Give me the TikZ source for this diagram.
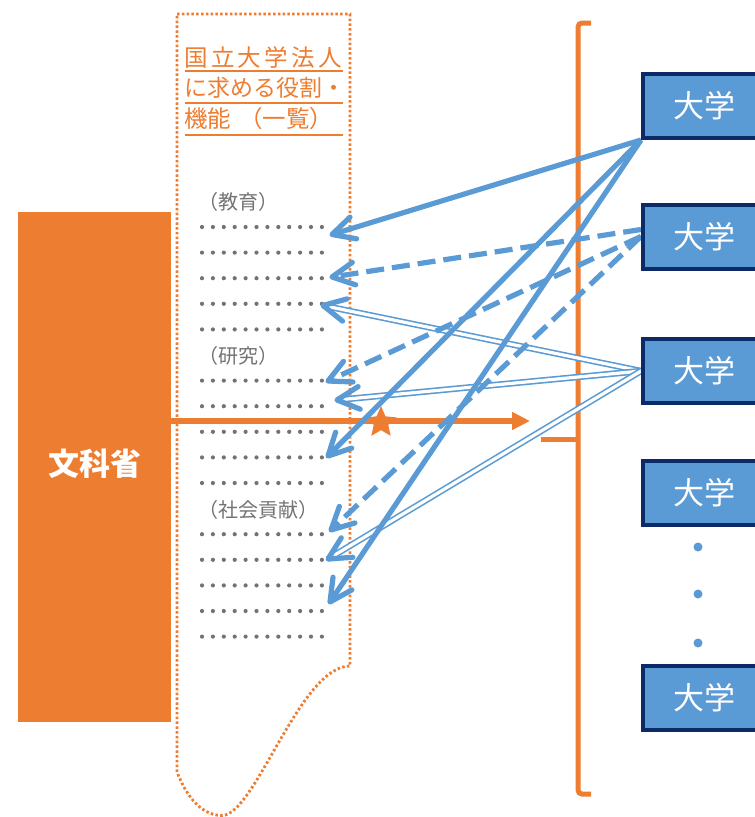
\documentclass[tikz,border=0pt]{standalone}
\usepackage{fontspec}
\setmainfont{Noto Sans CJK JP}
\usetikzlibrary{arrows.meta,calc,shapes.geometric}
\pgfdeclarelayer{front}
\pgfsetlayers{main,front}
\definecolor{mextor}{HTML}{ED7D31}
\definecolor{ublue}{HTML}{5B9BD5}
\definecolor{unavy}{HTML}{0C2B66}
\definecolor{txtgray}{HTML}{737373}
\newcommand{\openhead}[2]{\draw[headstyle] ($(#1)!25pt!27:(#2)$) -- (#1) -- ($(#1)!25pt!-27:(#2)$);}
\begin{document}
\begin{tikzpicture}[x=1pt,y=-1pt,
 ubox/.style={draw=unavy, fill=ublue, line width=4pt, minimum width=122pt, minimum height=64pt, inner sep=0pt, text=white, font=\fontsize{31pt}{34pt}\selectfont},
 docline/.style={draw=mextor, line width=2.8pt, dash pattern=on 2.5pt off 2.3pt},
 titletext/.style={text=mextor, inner sep=0pt, anchor=west},
 sectlabel/.style={text=txtgray, inner sep=0pt, anchor=west, font=\fontsize{20pt}{22pt}\selectfont},
 solidarrow/.style={draw=ublue, line width=5.2pt},
 dasharrow/.style={draw=ublue, line width=5.2pt, dash pattern=on 18pt off 8pt},
 dblarrow/.style={draw=ublue, line width=1.6pt, double=white, double distance=3.2pt},
 headstyle/.style={draw=ublue, line width=5.2pt, line cap=round, line join=round},
 dotmark/.style={fill=txtgray},
 mextbox/.style={fill=mextor, inner sep=0pt, anchor=north west, minimum width=153pt, minimum height=510pt},
 uline/.style={draw=mextor, line width=1.3pt},
 bracketline/.style={draw=mextor, line width=5pt},
]
\useasboundingbox (0,0) rectangle (755,817);
\clip (0,0) rectangle (755,817);
\fill[white] (0,0) rectangle (755,817);

% MEXT box
\node[mextbox] (mext) at (18,212) {};
\node[text=white, font=\fontsize{31pt}{34pt}\selectfont\bfseries] (mextlabel) at (95,464) {文科省};

% document
\draw[docline] (177,14) -- (350,14) -- (350,666)
  .. controls (300,666) and (255,815.5) .. (222,815.5)
  .. controls (207,815.5) and (190,805) .. (177,772) -- cycle;

\node[titletext, font=\fontsize{23.5pt}{26pt}\selectfont] (title1) at (184,58) {\makebox[158pt][l]{国\hfill 立\hfill 大\hfill 学\hfill 法\hfill 人}};
\node[titletext, font=\fontsize{23pt}{26pt}\selectfont] (title2) at (184,88) {に求める役割・};
\node[titletext, font=\fontsize{23.5pt}{26pt}\selectfont] (title3) at (184,119) {機能\hspace{8pt}（一覧）};
\draw[uline] (185,71) -- (343,71);
\draw[uline] (185,103) -- (343,103);
\draw[uline] (185,135) -- (343,135);

\node[sectlabel] (sec1) at (198,202) {（教育）};
\node[sectlabel] (sec2) at (198,355.5) {（研究）};
\node[sectlabel] (sec3) at (198,509.5) {（社会貢献）};

\foreach \k in {0,1,2,3,4,6,7,8,9,10,12,13,14,15,16}{
  \foreach \i in {0,...,11}{
    \fill[dotmark] (202+10.9*\i, 227+25.6*\k) circle (2.1pt);
  }
}

% orange arrow and star
\coordinate (oatip) at (530,421);
\draw[mextor, line width=5.5pt, -{Triangle[length=18pt,width=17pt]}] (mext.east |- oatip) -- (oatip);
\coordinate (goalstar) at (381,422.5);
\fill[mextor, shift={(goalstar)}] (-90:16.5) -- (-54:7.6) -- (-18:16.5) -- (18:7.6) -- (54:16.5) -- (90:7.6) -- (126:16.5) -- (162:7.6) -- (198:16.5) -- (234:7.6) -- cycle;

% bracket
\draw[bracketline, rounded corners=4pt] (591,23) -- (578,23) -- (578,794) -- (591,794);
\draw[bracketline] (578,439) -- (541,439);

% universities
\begin{pgfonlayer}{front}
\node[ubox] (u1) at (704,106) {大学};
\node[ubox] (u2) at (704,236.5) {大学};
\node[ubox] (u3) at (704,371) {大学};
\node[ubox] (u4) at (704,493) {大学};
\node[ubox] (u5) at (704,698) {大学};
\fill[ublue] (698,547) circle (4.5pt);
\fill[ublue] (698,594) circle (4.5pt);
\fill[ublue] (698,643) circle (4.5pt);
\end{pgfonlayer}

% arrow end points
\coordinate (t1a) at (332,234.5);
\coordinate (t2a) at (332,277);
\coordinate (t3a) at (323,305.5);
\coordinate (t2b) at (328,381);
\coordinate (t3b) at (337,400);
\coordinate (t1b) at (328,456);
\coordinate (t2c) at (331,530);
\coordinate (t3c) at (328,559);
\coordinate (t1c) at (330,602);
\coordinate (s2a) at ($(u2.west)+(0,-7)$);

% double arrows (university 3)
\draw[dblarrow] (u3.west) -- (t3a);
\draw[dblarrow] (u3.west) -- (t3b);
\draw[dblarrow] (u3.west) -- (t3c);
% dashed arrows (university 2)
\draw[dasharrow] (s2a) -- (t2a);
\draw[dasharrow] (u2.west) -- (t2b);
\draw[dasharrow] (u2.west) -- (t2c);
% solid arrows (university 1)
\draw[solidarrow] (u1.south west) -- (t1a);
\draw[solidarrow] (u1.south west) -- (t1b);
\draw[solidarrow] (u1.south west) -- (t1c);

% heads
\openhead{t1a}{u1.south west}
\openhead{t1b}{u1.south west}
\openhead{t1c}{u1.south west}
\openhead{t2a}{s2a}
\openhead{t2b}{u2.west}
\openhead{t2c}{u2.west}
\openhead{t3a}{u3.west}
\openhead{t3b}{u3.west}
\openhead{t3c}{u3.west}
\end{tikzpicture}
\end{document}
